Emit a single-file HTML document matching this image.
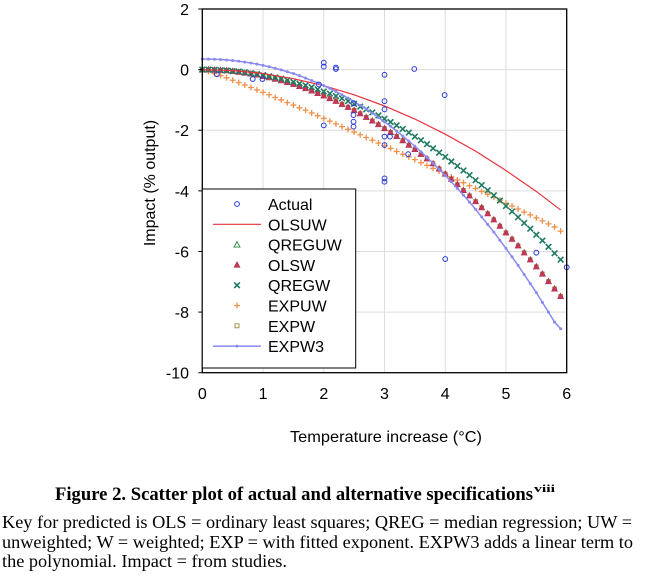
<!DOCTYPE html>
<html><head><meta charset="utf-8"><style>
html,body{margin:0;padding:0;background:#fff;}
svg{display:block;}
text{font-family:"Liberation Sans",sans-serif;}
.serif{font-family:"Liberation Serif",serif;}
</style></head><body>
<svg id="chart" width="646" height="579" viewBox="0 0 646 579" xmlns="http://www.w3.org/2000/svg">
<g id="grid"></g>
<g id="series"></g>
<rect x="202.3" y="9" width="364.4" height="363.7" fill="none" stroke="#000" stroke-width="1.3"/>
<g id="ticks"></g>
<text x="155" y="183" font-size="16" text-anchor="middle" transform="rotate(-90 155 183)">Impact (% output)</text>
<text x="290" y="442" font-size="16" textLength="192" lengthAdjust="spacingAndGlyphs">Temperature increase (°C)</text>
<g id="legend"></g>
<text class="serif" x="55" y="500" font-size="19" font-weight="bold" textLength="478" lengthAdjust="spacingAndGlyphs">Figure 2. Scatter plot of actual and alternative specifications</text>
<text class="serif" x="534" y="492" font-size="11" font-weight="bold" textLength="21" lengthAdjust="spacingAndGlyphs">viii</text>
<text class="serif" x="2" y="528" font-size="18" textLength="630" lengthAdjust="spacingAndGlyphs">Key for predicted is OLS = ordinary least squares; QREG = median regression; UW =</text>
<text class="serif" x="2" y="548" font-size="18" textLength="631" lengthAdjust="spacingAndGlyphs">unweighted; W = weighted; EXP = with fitted exponent. EXPW3 adds a linear term to</text>
<text class="serif" x="2" y="567" font-size="18" textLength="285" lengthAdjust="spacingAndGlyphs">the polynomial. Impact = from studies.</text>
</svg>
<script>
const xTicks = [0,1,2,3,4,5,6];
const yTicks = [2,0,-2,-4,-6,-8,-10];
const actualX = [0.24,0.83,0.99,1.92,2.0,2.0,2.0,2.2,2.2,2.49,2.49,2.49,2.49,3.0,3.0,3.0,3.0,3.0,3.0,3.0,3.09,3.39,3.49,3.99,4.0,5.5,6.0];
const actualY = [-0.15,-0.31,-0.31,-0.49,0.23,0.1,-1.84,0.07,0.02,-1.11,-1.5,-1.72,-1.88,-0.17,-1.04,-1.31,-2.21,-2.49,-3.59,-3.7,-2.21,-2.79,0.02,-0.84,-6.25,-6.04,-6.52];
const olsuwX = [0,0.5,1,1.5,2,2.5,3,3.5,4,4.5,5,5.5,5.9];
const olsuwY = [0,-0.03,-0.13,-0.3,-0.53,-0.83,-1.2,-1.63,-2.13,-2.69,-3.33,-4.02,-4.63];
const qregY = [0,0,-0.01,-0.02,-0.03,-0.05,-0.06,-0.09,-0.12,-0.15,-0.18,-0.22,-0.26,-0.3,-0.35,-0.41,-0.46,-0.52,-0.58,-0.65,-0.72,-0.79,-0.87,-0.95,-1.04,-1.13,-1.22,-1.31,-1.41,-1.51,-1.62,-1.73,-1.84,-1.96,-2.08,-2.21,-2.33,-2.46,-2.6,-2.74,-2.88,-3.03,-3.18,-3.33,-3.48,-3.65,-3.81,-3.98,-4.15,-4.32,-4.5,-4.68,-4.87,-5.06,-5.25,-5.45,-5.64,-5.85,-6.06,-6.27];
const olswY = [0,0,-0.01,-0.02,-0.03,-0.05,-0.08,-0.11,-0.14,-0.17,-0.22,-0.26,-0.31,-0.36,-0.42,-0.48,-0.55,-0.62,-0.7,-0.78,-0.86,-0.95,-1.04,-1.14,-1.24,-1.34,-1.45,-1.57,-1.69,-1.81,-1.94,-2.07,-2.2,-2.34,-2.49,-2.63,-2.79,-2.94,-3.1,-3.27,-3.44,-3.61,-3.79,-3.98,-4.16,-4.35,-4.55,-4.75,-4.95,-5.16,-5.38,-5.59,-5.81,-6.04,-6.27,-6.5,-6.74,-6.99,-7.23,-7.48];
const expuwY = [0,-0.06,-0.13,-0.2,-0.27,-0.35,-0.43,-0.51,-0.59,-0.67,-0.75,-0.83,-0.92,-1.0,-1.09,-1.17,-1.26,-1.34,-1.43,-1.52,-1.61,-1.7,-1.79,-1.88,-1.97,-2.06,-2.15,-2.24,-2.33,-2.42,-2.51,-2.6,-2.7,-2.79,-2.88,-2.97,-3.07,-3.16,-3.26,-3.35,-3.45,-3.54,-3.64,-3.73,-3.83,-3.92,-4.02,-4.11,-4.21,-4.31,-4.41,-4.5,-4.6,-4.7,-4.79,-4.89,-4.99,-5.09,-5.19,-5.33];
const expw3Y = [0.35,0.348,0.342,0.332,0.317,0.299,0.276,0.249,0.217,0.181,0.14,0.095,0.045,-0.01,-0.07,-0.13,-0.2,-0.28,-0.36,-0.44,-0.53,-0.62,-0.72,-0.83,-0.94,-1.06,-1.18,-1.3,-1.44,-1.58,-1.72,-1.87,-2.03,-2.19,-2.36,-2.53,-2.71,-2.9,-3.09,-3.29,-3.49,-3.7,-3.92,-4.14,-4.37,-4.61,-4.86,-5.11,-5.36,-5.63,-5.9,-6.18,-6.46,-6.76,-7.06,-7.36,-7.68,-8.0,-8.33,-8.55];
const legendLabels = ["Actual","OLSUW","QREGUW","OLSW","QREGW","EXPUW","EXPW","EXPW3"];

const NS="http://www.w3.org/2000/svg";
const X0=202.3,X1=566.7,Y0=9,Y1=372.7;
function sx(v){return X0+(v-0)/(6-0)*(X1-X0);}
function sy(v){return Y0+(2-v)/(2-(-10))*(Y1-Y0);}
function gridX(i){return i/10;}
function mk(tag,attrs,parent){const e=document.createElementNS(NS,tag);for(const k in attrs)e.setAttribute(k,attrs[k]);parent.appendChild(e);return e;}
const grid=document.getElementById('grid'),ser=document.getElementById('series'),tk=document.getElementById('ticks'),lg=document.getElementById('legend');

xTicks.forEach(t=>{
  const l=mk('line',{x1:sx(t),x2:sx(t),y1:Y0,y2:Y1,stroke:'#ddd','stroke-width':1},grid);
  
  
  const tl=mk('text',{x:sx(t),y:399,'font-size':16,'text-anchor':'middle'},tk);
  tl.textContent=t;
  
  
});
yTicks.forEach(t=>{
  const l=mk('line',{x1:X0,x2:X1,y1:sy(t),y2:sy(t),stroke:'#ddd','stroke-width':1},grid);
  
  
  const tl=mk('text',{x:189,y:sy(t)+6,'font-size':16,'text-anchor':'end'},tk);
  tl.textContent=t;
  
  
  const m=mk('line',{x1:X0-4,x2:X0,y1:sy(t),y2:sy(t),stroke:'#000'},tk);
  
  
});

function marker(type,x,y,g){
  let e;
  if(type==='circle'){e=mk('circle',{cx:x,cy:y,r:2.4,fill:'none',stroke:'#2b3bd6','stroke-width':1},g);}
  else if(type==='tri'){e=mk('polygon',{points:`${x},${y-3.2} ${x+3},${y+2.4} ${x-3},${y+2.4}`,fill:'#c8365a',stroke:'#b03050','stroke-width':0.6},g);}
  else if(type==='x'){e=mk('path',{d:`M${x-2.8},${y-2.8}L${x+2.8},${y+2.8}M${x+2.8},${y-2.8}L${x-2.8},${y+2.8}`,stroke:'#1f7a62','stroke-width':1.6},g);}
  else if(type==='plus'){e=mk('path',{d:`M${x-3},${y}L${x+3},${y}M${x},${y-3}L${x},${y+3}`,stroke:'#f0904a','stroke-width':1.3},g);}
  else if(type==='sq'){e=mk('rect',{x:x-2,y:y-2,width:4,height:4,fill:'#9a8a3a',stroke:'#8a7a30','stroke-width':0.5},g);}
  else if(type==='dot'){e=mk('circle',{cx:x,cy:y,r:1.5,fill:'#8a8af0'},g);}
  return e;
}
function scatterSeries(name,type,ys,g){
  ys.forEach((v,i)=>{
    const e=marker(type,sx(gridX(i)),sy(v),g);
    
    
  });
}
const gE=mk('g',{},ser);
scatterSeries('expuw','plus',expuwY,gE);
const gO=mk('g',{},ser);
scatterSeries('expw','sq',olswY,gO);
scatterSeries('olsw','tri',olswY,gO);
const gQ=mk('g',{},ser);
scatterSeries('qregw','x',qregY,gQ);
const pl=mk('polyline',{points:olsuwX.map((x,i)=>sx(x)+','+sy(olsuwY[i])).join(' '),fill:'none',stroke:'#e8323c','stroke-width':1.2},ser);


const p3=mk('polyline',{points:expw3Y.map((v,i)=>sx(gridX(i))+','+sy(v)).join(' '),fill:'none',stroke:'#8a8af0','stroke-width':1.5},ser);


scatterSeries('expw3','dot',expw3Y,mk('g',{},ser));
const gA=mk('g',{},ser);
actualX.forEach((x,i)=>{
  const e=marker('circle',sx(x),sy(actualY[i]),gA);
  
  
});

const lr=mk('rect',{x:202.3,y:189,width:153.4,height:179,fill:'#fff',stroke:'#000','stroke-width':1},lg);


const types=['circle','line','triG','tri','x','plus','sq','line3'];
legendLabels.forEach((lab,i)=>{
  const cy=204+i*20.3, cx=237;
  const g=mk('g',{},lg);
  
  
  const t=types[i];
  if(t==='line'){mk('line',{x1:213,x2:261,y1:cy,y2:cy,stroke:'#e8323c','stroke-width':1.2},g);}
  else if(t==='line3'){mk('line',{x1:213,x2:261,y1:cy,y2:cy,stroke:'#8a8af0','stroke-width':1.5},g);mk('circle',{cx:cx,cy:cy,r:1.5,fill:'#8a8af0'},g);}
  else if(t==='triG'){mk('polygon',{points:`${cx},${cy-3} ${cx+3},${cy+2.5} ${cx-3},${cy+2.5}`,fill:'none',stroke:'#2a8a3a','stroke-width':0.9},g);}
  else if(t==='sq'){mk('rect',{x:cx-2,y:cy-2,width:4,height:4,fill:'none',stroke:'#9a8a3a','stroke-width':0.9},g);}
  else marker(t,cx,cy,g);
  const tx=mk('text',{x:268,y:cy+6,'font-size':16},g);
  tx.textContent=lab;
});
</script>
</body></html>
